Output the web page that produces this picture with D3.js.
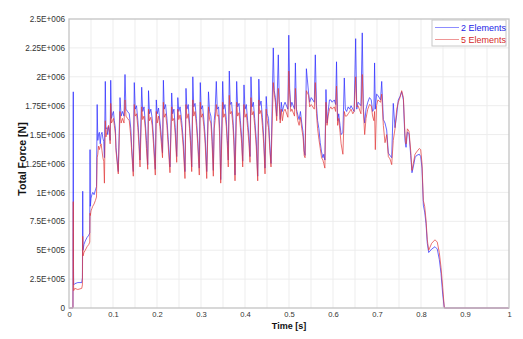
<!DOCTYPE html>
<html><head><meta charset="utf-8">
<script src="https://cdn.jsdelivr.net/npm/d3@7"></script>
<style>
body{margin:0;background:#fff}
svg{display:block}
text{font-family:"Liberation Sans",Arial,sans-serif}
</style>
</head><body>
<svg id="chart" width="523" height="339"></svg>
<script>
// ---- data (force in units of 1E+006 N) ----
const seriesNames = ["2 Elements", "5 Elements"];
const time = [
 0, 0.009, 0.0097, 0.0101, 0.0106, 0.013, 0.020, 0.029, 0.0305, 0.0312,
 0.0318, 0.034, 0.037, 0.041, 0.045, 0.0472, 0.0478, 0.0485, 0.050, 0.052,
 0.054, 0.057, 0.060, 0.0625, 0.064, 0.0655, 0.067, 0.069, 0.071, 0.073,
 0.075, 0.077, 0.079, 0.0805, 0.0825, 0.084, 0.086, 0.088, 0.090, 0.092,
 0.0935, 0.0948, 0.0965, 0.099, 0.101, 0.103, 0.1055, 0.1068, 0.112, 0.1159,
 0.1185, 0.1215, 0.125, 0.1273, 0.1295, 0.133, 0.137, 0.1405, 0.1425, 0.1461,
 0.1484, 0.1505, 0.1535, 0.1565, 0.159, 0.1614, 0.1652, 0.1675, 0.1705, 0.1735,
 0.176, 0.1789, 0.1807, 0.183, 0.186, 0.189, 0.192, 0.1961, 0.1984, 0.2005,
 0.2035, 0.2065, 0.2095, 0.2125, 0.2145, 0.2165, 0.2195, 0.2225, 0.2255, 0.2295,
 0.2334, 0.2355, 0.2385, 0.2415, 0.2448, 0.2473, 0.2495, 0.2525, 0.256, 0.2595,
 0.2636, 0.2659, 0.268, 0.271, 0.274, 0.2765, 0.2789, 0.2814, 0.2835, 0.2865,
 0.2895, 0.2925, 0.2961, 0.2984, 0.3005, 0.3035, 0.3065, 0.3095, 0.313, 0.317,
 0.3195, 0.3225, 0.325, 0.328, 0.330, 0.332, 0.3348, 0.337, 0.340, 0.3425,
 0.3448, 0.3493, 0.3515, 0.3545, 0.3575, 0.360, 0.362, 0.3643, 0.3665, 0.3695,
 0.3725, 0.375, 0.3773, 0.3811, 0.3833, 0.3865, 0.3895, 0.3925, 0.3948, 0.3977,
 0.400, 0.403, 0.406, 0.409, 0.4114, 0.4136, 0.416, 0.419, 0.422, 0.4255,
 0.4289, 0.4314, 0.4335, 0.4365, 0.4395, 0.4425, 0.4455, 0.4482, 0.4505, 0.4535,
 0.4565, 0.4591, 0.4643, 0.4665, 0.469, 0.472, 0.4757, 0.478, 0.480, 0.4825,
 0.485, 0.488, 0.491, 0.4975, 0.4995, 0.5015, 0.504, 0.5065, 0.5125, 0.5145,
 0.517, 0.520, 0.523, 0.526, 0.529, 0.532, 0.5345, 0.5365, 0.5395, 0.5445,
 0.547, 0.5505, 0.5575, 0.5598, 0.5625, 0.565, 0.568, 0.571, 0.574, 0.577,
 0.579, 0.5815, 0.584, 0.5865, 0.589, 0.592, 0.595, 0.598, 0.603, 0.606,
 0.608, 0.6105, 0.613, 0.616, 0.6185, 0.6225, 0.6257, 0.628, 0.631, 0.6345,
 0.638, 0.641, 0.645, 0.648, 0.6515, 0.654, 0.657, 0.6635, 0.6665, 0.669,
 0.672, 0.675, 0.679, 0.683, 0.687, 0.690, 0.693, 0.6945, 0.6962, 0.699,
 0.702, 0.708, 0.7107, 0.7144, 0.7182, 0.722, 0.7258, 0.7295, 0.7334, 0.737,
 0.7409, 0.7448, 0.7484, 0.7523, 0.7561, 0.760, 0.7636, 0.766, 0.769, 0.7727,
 0.7766, 0.7795, 0.7825, 0.7864, 0.790, 0.7962, 0.7993, 0.8023, 0.8053, 0.8084,
 0.8114, 0.8143, 0.8175, 0.8243, 0.8318, 0.837, 0.8416, 0.8455, 0.8493, 0.853,
 1
];
const force2Elements = [
 0, 0, 1.87, 0.42, 0.20, 0.21, 0.22, 0.22, 0.26, 1.01,
 0.50, 0.55, 0.58, 0.61, 0.63, 0.65, 1.37, 0.88, 0.95, 0.98,
 1.00, 0.98, 1.02, 1.05, 1.76, 1.45, 1.50, 1.52, 1.42, 1.50,
 1.52, 1.47, 1.44, 1.30, 1.96, 1.55, 1.56, 1.50, 1.57, 1.53,
 1.45, 1.97, 1.64, 1.68, 1.70, 1.62, 1.55, 1.39, 1.18, 1.82,
 1.66, 1.70, 1.66, 2.02, 1.72, 1.70, 1.68, 1.55, 1.39, 1.18,
 1.95, 1.72, 1.75, 1.62, 1.46, 1.28, 1.91, 1.70, 1.74, 1.60,
 1.45, 1.24, 1.88, 1.68, 1.72, 1.64, 1.48, 1.20, 1.80, 1.68,
 1.73, 1.62, 1.50, 1.34, 1.97, 1.72, 1.76, 1.64, 1.46, 1.22,
 1.86, 1.68, 1.72, 1.56, 1.31, 1.82, 1.70, 1.74, 1.62, 1.46,
 1.18, 1.90, 1.72, 1.76, 1.60, 1.45, 1.22, 2.00, 1.74, 1.77,
 1.64, 1.47, 1.21, 1.95, 1.72, 1.75, 1.63, 1.48, 1.18, 1.87,
 1.70, 1.66, 1.50, 1.19, 1.62, 1.70, 1.96, 1.72, 1.74, 1.55,
 1.11, 1.96, 1.72, 1.76, 1.63, 1.45, 1.28, 2.05, 1.76, 1.78,
 1.64, 1.46, 1.15, 1.96, 1.74, 1.77, 1.62, 1.47, 1.27, 1.93,
 1.72, 1.76, 1.62, 1.48, 1.31, 2.00, 1.74, 1.78, 1.64, 1.46,
 1.14, 1.98, 1.75, 1.79, 1.65, 1.48, 1.21, 1.83, 1.68, 1.64,
 1.40, 1.25, 2.25, 1.88, 1.82, 1.66, 2.19, 1.78, 1.63, 1.78,
 1.70, 1.75, 1.78, 1.72, 2.36, 1.90, 1.74, 1.78, 1.72, 2.12,
 1.72, 1.67, 1.63, 1.70, 1.60, 1.52, 1.36, 1.32, 2.07, 1.86,
 1.78, 1.82, 1.78, 2.19, 1.75, 1.62, 1.55, 1.43, 1.35, 1.30,
 1.33, 1.28, 1.89, 1.60, 1.70, 1.80, 1.80, 1.78, 1.80, 1.76,
 2.13, 1.62, 1.68, 1.58, 1.50, 1.52, 1.99, 1.72, 1.70, 1.74,
 1.72, 1.75, 1.72, 1.70, 2.33, 1.72, 1.78, 1.75, 2.38, 1.72,
 1.60, 1.72, 1.78, 1.82, 1.80, 1.70, 1.72, 2.12, 1.72, 1.85,
 1.84, 1.80, 1.96, 1.63, 1.60, 1.54, 1.34, 1.32, 1.30, 1.77,
 1.56, 1.67, 1.80, 1.83, 1.87, 1.80, 1.45, 1.39, 1.52, 1.51,
 1.32, 1.17, 1.22, 1.30, 1.32, 1.33, 1.31, 1.21, 0.89, 0.83,
 0.73, 0.56, 0.48, 0.51, 0.53, 0.51, 0.42, 0.30, 0.12, 0,
 0
];
const force5Elements = [
 0, 0, 0.92, 0.30, 0.15, 0.17, 0.16, 0.17, 0.20, 0.62,
 0.45, 0.48, 0.50, 0.53, 0.55, 0.57, 0.82, 0.80, 0.84, 0.86,
 0.88, 0.90, 0.93, 0.96, 1.30, 1.33, 1.40, 1.37, 1.40, 1.42,
 1.36, 1.30, 1.27, 1.08, 1.62, 1.48, 1.52, 1.56, 1.58, 1.52,
 1.42, 1.77, 1.60, 1.62, 1.64, 1.58, 1.50, 1.36, 1.16, 1.70,
 1.60, 1.64, 1.60, 1.80, 1.66, 1.64, 1.62, 1.48, 1.35, 1.14,
 1.76, 1.66, 1.68, 1.56, 1.40, 1.22, 1.74, 1.63, 1.66, 1.55,
 1.38, 1.20, 1.72, 1.62, 1.65, 1.58, 1.42, 1.15, 1.70, 1.60,
 1.66, 1.57, 1.44, 1.30, 1.78, 1.65, 1.68, 1.58, 1.40, 1.17,
 1.74, 1.62, 1.64, 1.50, 1.26, 1.72, 1.63, 1.67, 1.56, 1.40,
 1.12, 1.76, 1.64, 1.68, 1.55, 1.40, 1.18, 1.80, 1.66, 1.70,
 1.58, 1.42, 1.15, 1.78, 1.65, 1.68, 1.57, 1.42, 1.12, 1.74,
 1.63, 1.60, 1.44, 1.14, 1.55, 1.62, 1.76, 1.66, 1.67, 1.48,
 1.08, 1.78, 1.65, 1.68, 1.57, 1.40, 1.22, 1.84, 1.68, 1.70,
 1.58, 1.40, 1.10, 1.78, 1.66, 1.69, 1.56, 1.42, 1.22, 1.76,
 1.65, 1.68, 1.56, 1.42, 1.26, 1.82, 1.67, 1.70, 1.58, 1.40,
 1.10, 1.80, 1.68, 1.71, 1.58, 1.42, 1.16, 1.72, 1.62, 1.56,
 1.36, 1.22, 1.95, 1.85, 1.78, 1.62, 1.90, 1.76, 1.60, 1.72,
 1.62, 1.70, 1.72, 1.65, 2.05, 1.85, 1.70, 1.72, 1.66, 1.90,
 1.70, 1.62, 1.58, 1.65, 1.55, 1.48, 1.32, 1.30, 1.88, 1.84,
 1.74, 1.76, 1.72, 1.95, 1.68, 1.55, 1.46, 1.38, 1.30, 1.28,
 1.25, 1.21, 1.78, 1.58, 1.66, 1.72, 1.74, 1.72, 1.74, 1.70,
 1.92, 1.58, 1.64, 1.52, 1.42, 1.33, 1.70, 1.66, 1.66, 1.68,
 1.70, 1.72, 1.68, 1.70, 2.00, 1.74, 1.75, 1.68, 2.02, 1.70,
 1.50, 1.64, 1.72, 1.76, 1.75, 1.66, 1.62, 1.70, 1.37, 1.75,
 1.80, 1.78, 1.85, 1.58, 1.43, 1.50, 1.31, 1.29, 1.24, 1.45,
 1.55, 1.72, 1.78, 1.82, 1.88, 1.82, 1.50, 1.42, 1.55, 1.53,
 1.36, 1.19, 1.25, 1.33, 1.35, 1.38, 1.37, 1.25, 0.93, 0.88,
 0.76, 0.59, 0.50, 0.56, 0.59, 0.57, 0.48, 0.35, 0.18, 0,
 0
];
const xTickValues = [0, 0.1, 0.2, 0.3, 0.4, 0.5, 0.6, 0.7, 0.8, 0.9, 1];
const xTickLabels = ["0", "0.1", "0.2", "0.3", "0.4", "0.5", "0.6", "0.7", "0.8", "0.9", "1"];
const yTickValues = [0, 0.25, 0.5, 0.75, 1, 1.25, 1.5, 1.75, 2, 2.25, 2.5];
const yTickLabels = ["0", "2.5E+005", "5E+005", "7.5E+005", "1E+006", "1.25E+006",
                     "1.5E+006", "1.75E+006", "2E+006", "2.25E+006", "2.5E+006"];
const xGridValues = [0.05, 0.1, 0.15, 0.2, 0.25, 0.3, 0.35, 0.4, 0.45, 0.5, 0.55, 0.6, 0.65, 0.7, 0.75, 0.8, 0.85, 0.9, 0.95];
const xTitle = "Time [s]";
const yTitle = "Total Force [N]";

// ---- layout ----
const L = 69, R = 509, T = 19, B = 308;
const colors = ["#2b2bff", "#e23b3b"];
const svg = d3.select("#chart");
const x = d3.scaleLinear().domain([0, 1]).range([L, R]);
const y = d3.scaleLinear().domain([0, 2.5]).range([B, T]);

// grid
svg.append("g").selectAll("line").data(xGridValues).join("line")
  .attr("x1", d => x(d)).attr("x2", d => x(d)).attr("y1", T).attr("y2", B)
  .attr("stroke", "#ededed").attr("stroke-width", 1);
svg.append("g").selectAll("line").data(yTickValues.slice(1, -1)).join("line")
  .attr("x1", L).attr("x2", R).attr("y1", d => y(d)).attr("y2", d => y(d))
  .attr("stroke", "#ededed").attr("stroke-width", 1);

// axes
const yAxis = svg.append("g").attr("transform", `translate(${L},0)`)
  .call(d3.axisLeft(y).tickValues(yTickValues).tickFormat((d, i) => yTickLabels[i]).tickSize(0).tickPadding(4));
yAxis.select(".domain").remove();
yAxis.selectAll("text").attr("font-size", 8.2).attr("fill", "#333").attr("font-family", "Liberation Sans, Arial, sans-serif");

const xAxis = svg.append("g").attr("transform", `translate(0,${B})`)
  .call(d3.axisBottom(x).tickValues(xTickValues).tickFormat((d, i) => xTickLabels[i]).tickSize(0).tickPadding(4));
xAxis.select(".domain").remove();
xAxis.selectAll("text").attr("font-size", 7.6).attr("fill", "#333").attr("font-family", "Liberation Sans, Arial, sans-serif");

// lines
const seriesData = [force2Elements, force5Elements];
const line = d3.line().x((d, i) => x(time[i])).y(d => y(d));
seriesData.forEach((vals, k) => {
  svg.append("path").datum(vals)
    .attr("d", line)
    .attr("fill", "none")
    .attr("stroke", colors[k])
    .attr("stroke-width", 0.9)
    .attr("stroke-opacity", 0.8)
    .attr("stroke-linejoin", "round");
});

// plot frame
svg.append("rect").attr("x", L).attr("y", T).attr("width", R - L).attr("height", B - T)
  .attr("fill", "none").attr("stroke", "#c4c4c4").attr("stroke-width", 1.3);

// titles
svg.append("text").attr("x", 289).attr("y", 328.5).attr("text-anchor", "middle")
  .attr("font-size", 9).attr("font-weight", "bold").attr("fill", "#111").text(xTitle);
svg.append("text").attr("transform", "translate(26,159) rotate(-90)").attr("text-anchor", "middle")
  .attr("font-size", 10.5).attr("font-weight", "bold").attr("fill", "#111").text(yTitle);

// legend
const lg = svg.append("g");
lg.append("rect").attr("x", 432).attr("y", 20).attr("width", 74).attr("height", 26)
  .attr("fill", "#fff").attr("stroke", "#c8c8c8").attr("stroke-width", 1);
seriesNames.forEach((name, k) => {
  const yy = 27.5 + k * 12;
  lg.append("line").attr("x1", 435).attr("x2", 459).attr("y1", yy).attr("y2", yy)
    .attr("stroke", colors[k]).attr("stroke-width", 0.9).attr("stroke-opacity", 0.6);
  lg.append("text").attr("x", 461).attr("y", yy + 3.2).attr("font-size", 9)
    .attr("fill", k === 0 ? "#2323e6" : "#d42a2a").text(name);
});
</script>
</body></html>
